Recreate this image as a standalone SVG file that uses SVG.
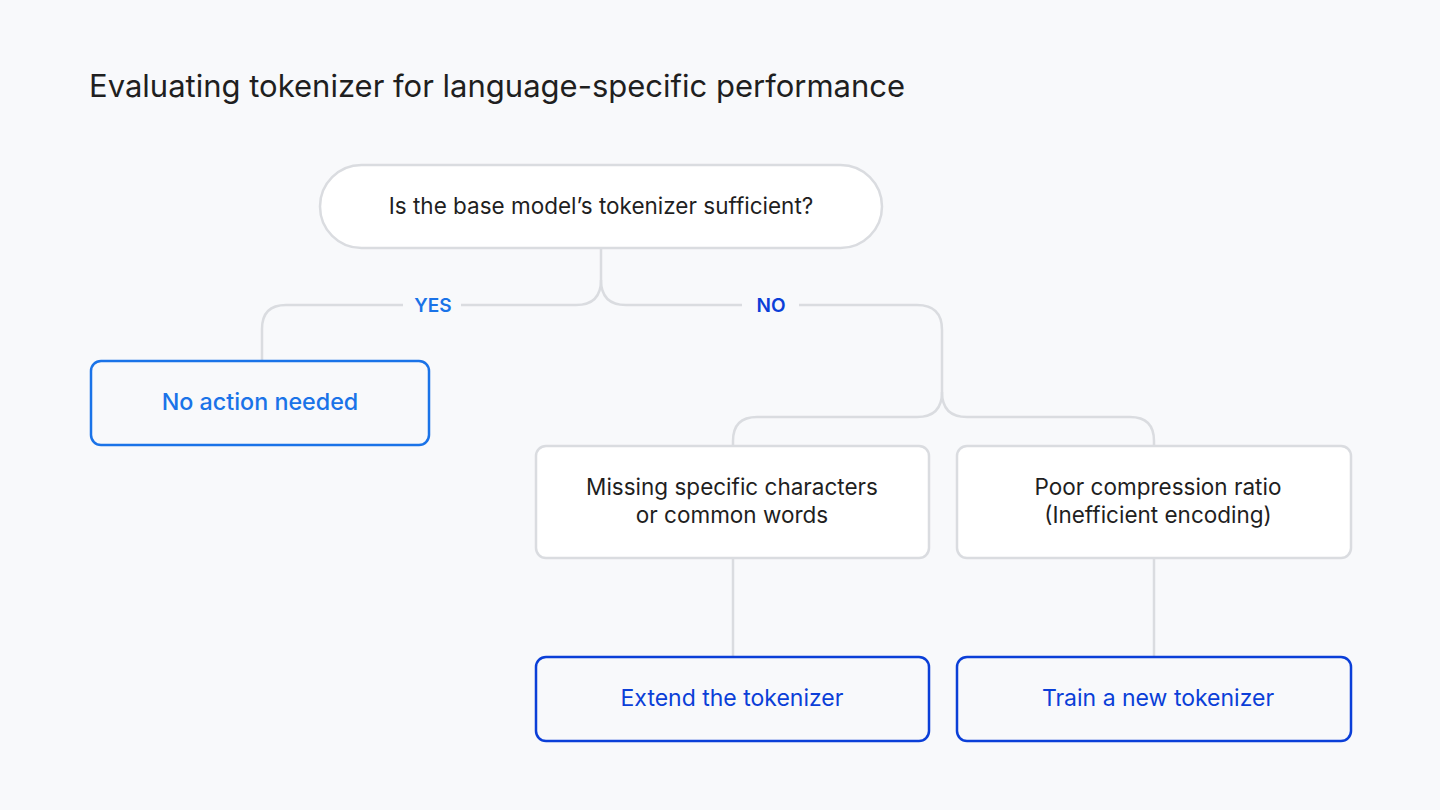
<svg xmlns="http://www.w3.org/2000/svg" width="1440" height="810" viewBox="0 0 1440 810">
<style>
.bg{fill:#f8f9fb}
.line{fill:none;stroke:#dadce0;stroke-width:2.5}
.box{fill:#ffffff;stroke:#dadce0;stroke-width:2.5}
.blue1{fill:#ffffff;fill-opacity:0;stroke:#1a73e8;stroke-width:2.5}
.blue2{fill:#ffffff;fill-opacity:0;stroke:#0b3fd8;stroke-width:2.5}
.t{font-family:Inter,"Open Sans","Liberation Sans",sans-serif;font-size:22.5px;fill:#1f1f1f;text-anchor:middle}
.tb1{font-family:Inter,"Open Sans","Liberation Sans",sans-serif;font-size:23.3px;font-weight:500;fill:#1a73e8;text-anchor:middle}
.tb2{font-family:Inter,"Open Sans","Liberation Sans",sans-serif;font-size:23px;fill:#0b3fd8;text-anchor:middle}
.lbl{font-family:Inter,"Open Sans","Liberation Sans",sans-serif;font-size:19px;font-weight:600;text-anchor:middle}
</style>
<rect class="bg" x="0" y="0" width="1440" height="810"/>
<text x="89" y="97" font-family="Inter,'Open Sans','Liberation Sans',sans-serif" font-size="31" fill="#1f1f1f">Evaluating tokenizer for language-specific performance</text>
<g id="connectors">
<path class="line" d="M601,249 V280 Q601,305 576,305 H461"/>
<path class="line" d="M403,305 H286 Q262,305 262,329 V361"/>
<path class="line" d="M601,280 Q601,305 626,305 H742"/>
<path class="line" d="M799,305 H917 Q942,305 942,330 V392 Q942,417 917,417 H757 Q733,417 733,441 V446"/>
<path class="line" d="M942,392 Q942,417 967,417 H1130 Q1154,417 1154,441 V446"/>
<path class="line" d="M733,558 V657"/>
<path class="line" d="M1154,558 V657"/>
<text class="lbl" x="433" y="312" fill="#1a73e8">YES</text>
<text class="lbl" x="771" y="312" fill="#0b3fd8">NO</text>
</g>
<g id="node-question">
<rect class="box" x="320" y="165" width="562" height="83" rx="41.5"/>
<text class="t" x="601" y="214">Is the base model’s tokenizer sufficient?</text>
</g>
<g id="node-noaction">
<rect class="blue1" x="91" y="361" width="338" height="84" rx="10"/>
<text class="tb1" x="260" y="410">No action needed</text>
</g>
<g id="node-missing">
<rect class="box" x="536" y="446" width="393" height="112" rx="10"/>
<text class="t" x="732" y="495">Missing specific characters</text>
<text class="t" x="732" y="523">or common words</text>
</g>
<g id="node-poor">
<rect class="box" x="957" y="446" width="394" height="112" rx="10"/>
<text class="t" x="1158" y="495">Poor compression ratio</text>
<text class="t" x="1158" y="523">(Inefficient encoding)</text>
</g>
<g id="node-extend">
<rect class="blue2" x="536" y="657" width="393" height="84" rx="10"/>
<text class="tb2" x="732" y="706">Extend the tokenizer</text>
</g>
<g id="node-train">
<rect class="blue2" x="957" y="657" width="394" height="84" rx="10"/>
<text class="tb2" x="1158" y="706">Train a new tokenizer</text>
</g>
</svg>
